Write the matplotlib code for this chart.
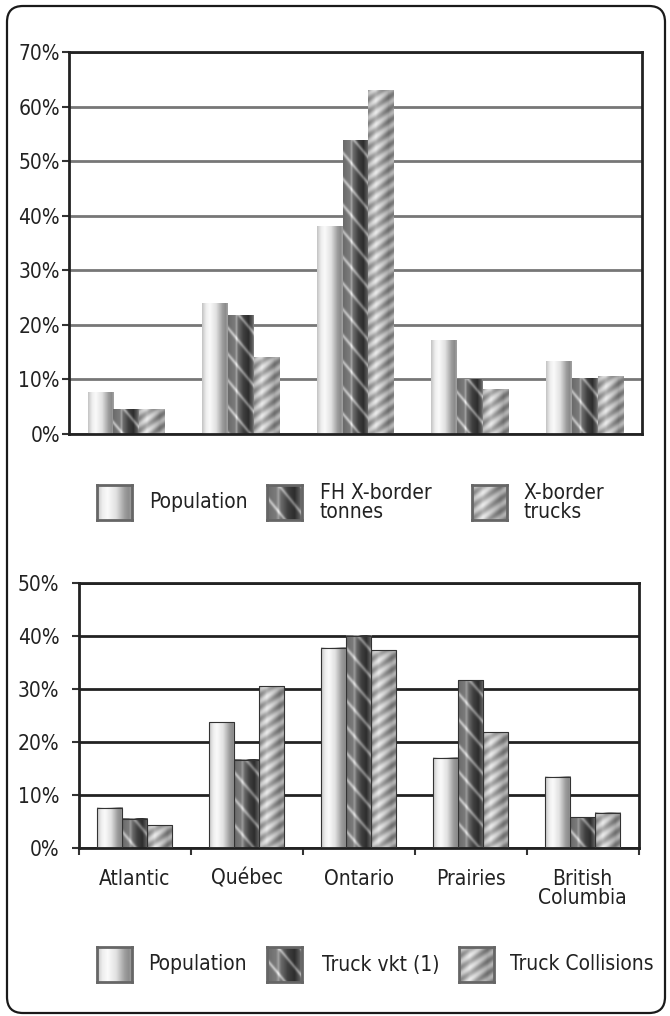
import numpy as np
import matplotlib
matplotlib.use('Agg')
import matplotlib.pyplot as plt
from matplotlib.patches import FancyBboxPatch
from matplotlib.ticker import FuncFormatter

plt.rcParams['font.family'] = ['DejaVu Sans']
plt.rcParams['font.stretch'] = 'condensed'

# shares by region, in percent
regions = ['Atlantic', 'Québec', 'Ontario', 'Prairies', 'British\nColumbia']

population_top = [7.6, 23.9, 38.1, 17.1, 13.3]
fh_xborder_tonnes = [4.5, 21.7, 53.7, 10.0, 10.1]
xborder_trucks = [4.5, 14.0, 62.9, 8.1, 10.5]

population_bottom = [7.6, 23.7, 37.7, 17.0, 13.4]
truck_vkt = [5.5, 16.6, 40.0, 31.6, 5.8]
truck_collisions = [4.3, 30.5, 37.3, 21.8, 6.6]

top_labels = ['Population', 'FH X-border\ntonnes', 'X-border\ntrucks']
bottom_labels = ['Population', 'Truck vkt (1)', 'Truck Collisions']

W, H = 670, 1016
BAR_W = 0.225
TEXT = '#222222'
FS = 15

# horizontal shading profiles for the metallic bars
SHADES = {
    'light': ([0, .15, .3, .55, .8, .92, 1], [.78, .93, .98, .88, .62, .55, .62]),
    'dark': ([0, .25, .32, .4, .6, .8, .95, 1], [.42, .48, .62, .42, .25, .18, .35, .48]),
    'mid': ([0, .3, .55, .8, 1], [.62, .8, .68, .55, .6]),
}
KINDS = ['light', 'dark', 'mid']


def bar_texture(kind, w, h):
    w = max(int(round(w)), 2)
    h = max(int(round(h)), 2)
    xp, fp = SHADES[kind]
    base = np.interp(np.linspace(0, 1, w), xp, fp)
    img = np.tile(base, (h, 1))
    X, Y = np.meshgrid(np.arange(w), np.arange(h))
    if kind == 'dark':
        d = (Y - 1.2 * X) % 26
        img = img + 0.3 * np.exp(-((d - 13) ** 2) / 6)
    elif kind == 'mid':
        d = (Y + 0.7 * X) % 12
        img = img + 0.12 * np.sin(2 * np.pi * d / 12)
    return np.clip(img, 0, 1)


def draw_bars(ax, series, ymax, edge):
    x = np.arange(len(regions))
    pos = ax.get_position()
    px_x = pos.width * W / len(regions)
    px_y = pos.height * H / ymax
    for i, (vals, kind) in enumerate(zip(series, KINDS)):
        bars = ax.bar(x + (i - 1) * BAR_W, vals, BAR_W, facecolor='none',
                      edgecolor=edge, linewidth=0.8, zorder=3)
        for rect in bars:
            x0, w, h = rect.get_x(), rect.get_width(), rect.get_height()
            img = bar_texture(kind, w * px_x, h * px_y)
            ax.imshow(img, cmap='gray', vmin=0, vmax=1, extent=(x0, x0 + w, 0, h),
                      aspect='auto', interpolation='bilinear', zorder=2)
    ax.set_xlim(-0.5, len(regions) - 0.5)
    ax.set_ylim(0, ymax)


def style_axes(ax, ymax, grid_color, ypad):
    ax.set_yticks(np.arange(0, ymax + 1, 10))
    ax.yaxis.set_major_formatter(FuncFormatter(lambda v, p: f'{v:.0f}%'))
    ax.yaxis.grid(True, color=grid_color, linewidth=2)
    ax.set_axisbelow(True)
    for s in ax.spines.values():
        s.set_color(TEXT)
        s.set_linewidth(2)
    ax.tick_params(axis='y', length=5, width=1.5, color='#333333', pad=ypad,
                   labelsize=FS, labelcolor=TEXT)


def legend_row(y_px, labels, box_xs, text_xs):
    for kind, label, bx, tx in zip(KINDS, labels, box_xs, text_xs):
        sw = fig.add_axes([bx / W, 1 - (y_px + 17.5) / H, 35 / W, 35 / H])
        sw.imshow(bar_texture(kind, 35, 35), cmap='gray', vmin=0, vmax=1,
                  aspect='auto', interpolation='bilinear')
        sw.set_xticks([])
        sw.set_yticks([])
        for s in sw.spines.values():
            s.set_color('#666666')
            s.set_linewidth(2)
        fig.text(tx / W, 1 - y_px / H, label, ha='left', va='center', fontsize=FS,
                 linespacing=0.95, color=TEXT)


fig = plt.figure(figsize=(W / 100, H / 100), dpi=100)

# rounded outer frame
frame = FancyBboxPatch((0.07, 0.03), 6.58, 10.07, boxstyle='round,pad=0,rounding_size=0.16',
                       transform=fig.dpi_scale_trans, facecolor='none',
                       edgecolor='#1a1a1a', linewidth=1.6)
fig.patches.append(frame)

# upper chart: population vs cross-border freight
ax1 = fig.add_axes([69 / W, 1 - 434 / H, 573 / W, 382 / H])
draw_bars(ax1, [population_top, fh_xborder_tonnes, xborder_trucks], 70, 'none')
style_axes(ax1, 70, '#777777', 1.5)
ax1.tick_params(axis='x', length=0, labelbottom=False)

# lower chart: population vs truck activity and collisions
ax2 = fig.add_axes([78.7 / W, 1 - 848 / H, 560 / W, 265.3 / H])
draw_bars(ax2, [population_bottom, truck_vkt, truck_collisions], 50, '#333333')
style_axes(ax2, 50, '#222222', 9)
ax2.set_xticks(np.arange(len(regions)))
ax2.set_xticklabels(regions, fontsize=FS, color=TEXT, linespacing=0.95, va='top')
ax2.set_xticks(np.arange(len(regions) + 1) - 0.5, minor=True)
ax2.tick_params(axis='x', which='major', length=0, pad=15)
ax2.tick_params(axis='x', which='minor', length=5, width=1.5, color='#333333')

legend_row(502.5, top_labels, [97, 267, 472], [149, 320, 523])
legend_row(964.5, bottom_labels, [97, 267, 459], [148, 322, 510])

fig.savefig('out.png', dpi=100)
